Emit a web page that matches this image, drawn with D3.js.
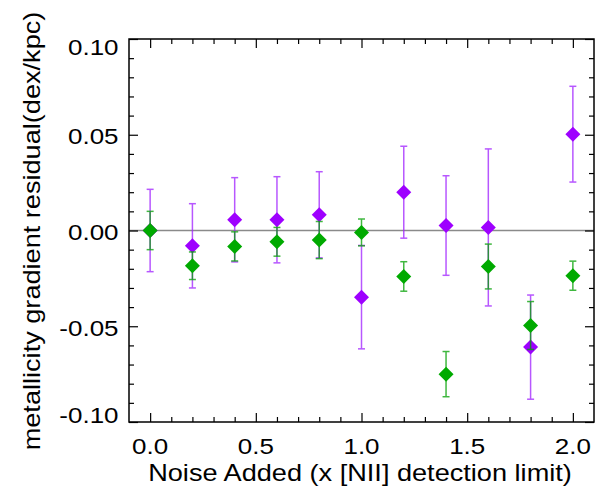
<!DOCTYPE html>
<html><head><meta charset="utf-8">
<script src="https://cdn.jsdelivr.net/npm/d3@7/dist/d3.min.js"></script>
<style>body{margin:0;background:#fff}svg{display:block}text{font-family:"Liberation Sans",Arial,sans-serif}</style>
</head><body>
<script>
const noise = [0.0, 0.2, 0.4, 0.6, 0.8, 1.0, 1.2, 1.4, 1.6, 1.8, 2.0];
const purpleValues = [0.000, -0.008, 0.0056, 0.0056, 0.0082, -0.0348, 0.020, 0.0026, 0.0016, -0.0609, 0.0503];
const purpleErrors = [0.0215, 0.022, 0.022, 0.0225, 0.0225, 0.027, 0.024, 0.026, 0.041, 0.0272, 0.025];
const greenValues = [0.000, -0.0184, -0.0083, -0.0059, -0.005, -0.001, -0.024, -0.075, -0.0188, -0.0496, -0.0236];
const greenErrors = [0.010, 0.0072, 0.0076, 0.0075, 0.0097, 0.007, 0.0077, 0.0118, 0.0117, 0.0125, 0.0076];
const xTickLabels = ["0.0", "0.5", "1.0", "1.5", "2.0"];
const yTickLabels = ["-0.10", "-0.05", "0.00", "0.05", "0.10"];

const W = 607, H = 499;
const L = 129, R = 594, T = 39, B = 422;
const SX = 1.18; // horizontal stretch of the original font
const svg = d3.select("body").append("svg").attr("width", W).attr("height", H);
const x = d3.scaleLinear().domain([-0.1, 2.1]).range([L, R]);
const y = d3.scaleLinear().domain([-0.1, 0.1]).range([B, T]);

// zero line
svg.append("line").attr("x1", L).attr("x2", R).attr("y1", y(0)).attr("y2", y(0))
  .attr("stroke", "#8a8a8a").attr("stroke-width", 1.3);

function series(vals, errs, color, barColor) {
  const g = svg.append("g");
  const data = noise.map((n, i) => ({n, v: vals[i], e: errs[i]}));
  const eb = g.selectAll(".eb").data(data).enter().append("g").attr("stroke", barColor).attr("stroke-width", 1.5).attr("opacity", 0.75);
  eb.append("line").attr("x1", d => x(d.n)).attr("x2", d => x(d.n)).attr("y1", d => y(d.v + d.e)).attr("y2", d => y(d.v - d.e));
  eb.append("line").attr("x1", d => x(d.n) - 3.5).attr("x2", d => x(d.n) + 3.5).attr("y1", d => y(d.v + d.e)).attr("y2", d => y(d.v + d.e));
  eb.append("line").attr("x1", d => x(d.n) - 3.5).attr("x2", d => x(d.n) + 3.5).attr("y1", d => y(d.v - d.e)).attr("y2", d => y(d.v - d.e));
  g.selectAll(".pt").data(data).enter().append("path")
    .attr("d", d => { const cx = x(d.n), cy = y(d.v), r = 7.5; return `M${cx},${cy-r}L${cx+r},${cy}L${cx},${cy+r}L${cx-r},${cy}Z`; })
    .attr("fill", color);
}
series(purpleValues, purpleErrors, "#9e00ff", "#a020ff");
series(greenValues, greenErrors, "#00aa00", "#00a000");

// axes frame
svg.append("rect").attr("x", L).attr("y", T).attr("width", R - L).attr("height", B - T)
  .attr("fill", "none").attr("stroke", "#000").attr("stroke-width", 1.5);

const xMajor = xTickLabels.map(Number);
const xMinor = d3.range(0, 21).map(i => i / 10).filter(v => !xMajor.some(m => Math.abs(m - v) < 1e-9));
const yMajor = yTickLabels.map(Number);
const yMinor = d3.range(-10, 11).map(i => i / 100).filter(v => !yMajor.some(m => Math.abs(m - v) < 1e-9));

function ticks(g, scale, orient, vals, len) {
  const ax = (orient === "bottom" ? d3.axisTop(scale) : orient === "top" ? d3.axisBottom(scale) :
              orient === "left" ? d3.axisRight(scale) : d3.axisLeft(scale))
    .tickValues(vals).tickSize(len).tickFormat("");
  g.call(ax);
  g.select(".domain").remove();
  g.selectAll("line").attr("stroke", "#000").attr("stroke-width", 1.2);
}
[["bottom", B], ["top", T]].forEach(([o, p]) => {
  ticks(svg.append("g").attr("transform", `translate(0,${p})`), x, o, xMajor, 9);
  ticks(svg.append("g").attr("transform", `translate(0,${p})`), x, o, xMinor, 5);
});
[["left", L], ["right", R]].forEach(([o, p]) => {
  ticks(svg.append("g").attr("transform", `translate(${p},0)`), y, o, yMajor, 9);
  ticks(svg.append("g").attr("transform", `translate(${p},0)`), y, o, yMinor, 5);
});

// tick labels
svg.append("g").selectAll("text").data(xTickLabels).enter().append("text")
  .attr("transform", d => `translate(${x(+d)},454) scale(${SX},1)`).attr("text-anchor", "middle")
  .attr("font-size", 22).text(d => d);
svg.append("g").selectAll("text").data(yTickLabels).enter().append("text")
  .attr("transform", (d, i) => {
    let off = 9.5;
    if (i === 0) off = 1; if (i === yTickLabels.length - 1) off = 16;
    return `translate(118.5,${y(+d) + off}) scale(${SX},1)`;
  })
  .attr("text-anchor", "end").attr("font-size", 22).text(d => d);

// axis titles
svg.append("text").attr("transform", `translate(360,480.5) scale(${SX},1)`).attr("text-anchor", "middle")
  .attr("font-size", 23).text("Noise Added (x [NII] detection limit)");
svg.append("text").attr("transform", `translate(40,231) rotate(-90) scale(${SX},1)`).attr("text-anchor", "middle")
  .attr("font-size", 23).text("metallicity gradient residual(dex/kpc)");
</script>
</body></html>
